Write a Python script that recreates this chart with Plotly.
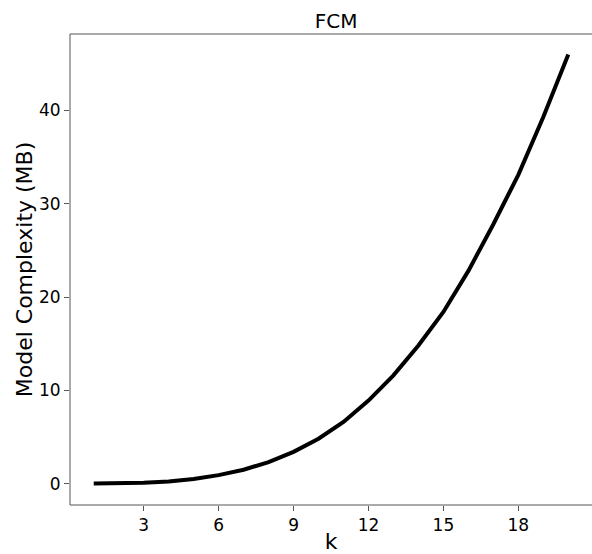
import plotly.graph_objects as go

k_values = list(range(1, 21))
complexity_mb = [0.0, 0.02, 0.08, 0.22, 0.48, 0.9, 1.48, 2.3, 3.4, 4.8,
                 6.6, 8.9, 11.6, 14.8, 18.4, 22.8, 27.8, 33.1, 39.3, 46.0]
x_ticks = [3, 6, 9, 12, 15, 18]
y_ticks = [0, 10, 20, 30, 40]

fig = go.Figure()
fig.add_trace(go.Scatter(x=k_values, y=complexity_mb, mode="lines",
                         line=dict(color="black", width=4), showlegend=False))

font_family = "DejaVu Sans"
fig.update_layout(
    template="none",
    width=592, height=554,
    margin=dict(l=70, r=0, t=34, b=49, autoexpand=False),
    paper_bgcolor="white", plot_bgcolor="white",
    font=dict(family=font_family, color="black"),
    title=dict(text="FCM", xref="paper", x=0.51, xanchor="center", y=0.962, yanchor="middle",
               font=dict(size=20, family=font_family, color="black")),
    xaxis=dict(range=[0.05, 20.95], tickvals=x_ticks, ticktext=[str(v) for v in x_ticks],
               showgrid=False, zeroline=False, showline=False,
               ticks="outside", ticklen=5, tickcolor="#555", automargin=False,
               tickfont=dict(size=17, family=font_family, color="black"),
               title=dict(text="k", font=dict(size=22, family=font_family, color="black"), standoff=6)),
    yaxis=dict(range=[-2.3, 48.2], tickvals=y_ticks, ticktext=[str(v) for v in y_ticks],
               showgrid=False, zeroline=False, showline=False,
               ticks="outside", ticklen=5, tickcolor="#555", automargin=False,
               tickfont=dict(size=17, family=font_family, color="black"),
               title=dict(text="Model Complexity (MB)", font=dict(size=22, family=font_family, color="black"), standoff=0)),
    shapes=[
        dict(type="line", xref="paper", yref="paper", x0=0, x1=1, y0=1, y1=1, line=dict(color="#555", width=1)),
        dict(type="line", xref="paper", yref="paper", x0=0, x1=1, y0=0, y1=0, line=dict(color="#555", width=1)),
        dict(type="line", xref="paper", yref="paper", x0=0, x1=0, y0=0, y1=1, line=dict(color="#555", width=1)),
    ],
)

fig.write_html("out.html", config={"displayModeBar": False, "staticPlot": True})
